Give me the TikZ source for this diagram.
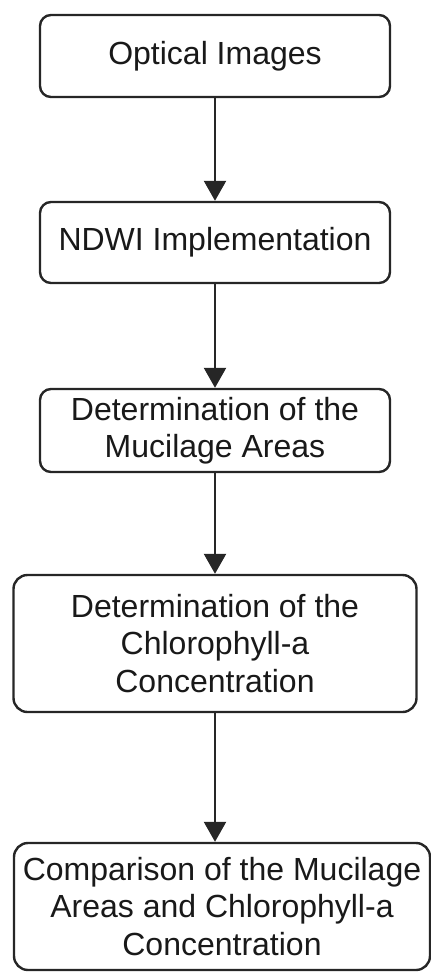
\documentclass[tikz,border=0pt]{standalone}
\usepackage{fontspec}
\setmainfont{Liberation Sans}
\usetikzlibrary{arrows.meta}
\begin{document}
\begin{tikzpicture}[x=1pt,y=-1pt,
  box/.style={draw=black!85, line width=2.4pt, rounded corners=11pt, fill=white,
    inner sep=0pt, align=center, text=black!90,
    font=\fontsize{32}{37.5}\selectfont},
  flow/.style={draw=black!85, line width=2.4pt, -{Triangle[width=22pt,length=20pt]}}]
\useasboundingbox (0,0) rectangle (431,972);
\node[box, minimum width=350pt, minimum height=82pt] (n1) at (215,56) {Optical Images};
\node[box, minimum width=350pt, minimum height=81pt] (n2) at (215,242.5) {NDWI Implementation};
\node[box, minimum width=350pt, minimum height=83pt] (n3) at (215,430.5) {Determination of the\\Mucilage Areas};
\node[box, minimum width=403pt, minimum height=137pt, rounded corners=14pt] (n4) at (215,643.5) {Determination of the\\Chlorophyll-a\\Concentration};
\node[box, minimum width=416pt, minimum height=127pt, rounded corners=14pt] (n5) at (222,906.5) {Comparison of the Mucilage\\Areas and Chlorophyll-a\\Concentration};
\draw[flow] (n1.south) -- (n1.south |- n2.north);
\draw[flow] (n2.south) -- (n2.south |- n3.north);
\draw[flow] (n3.south) -- (n3.south |- n4.north);
\draw[flow] (n4.south) -- (n4.south |- n5.north);
\end{tikzpicture}
\end{document}
